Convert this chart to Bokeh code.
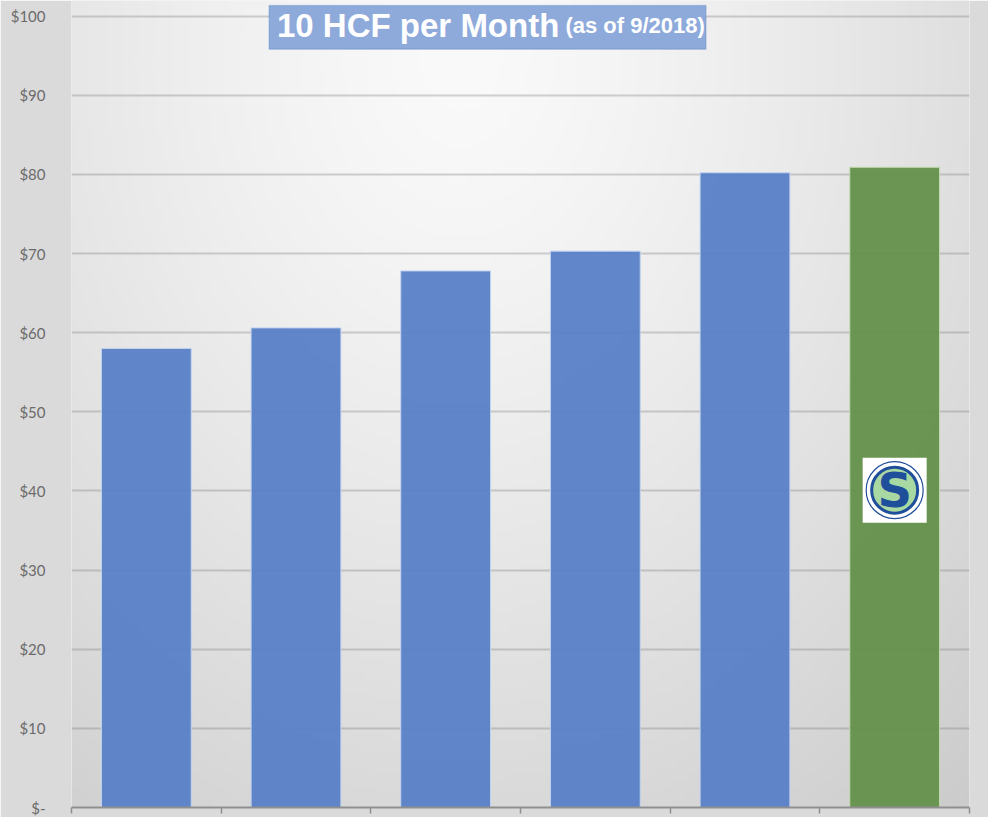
import numpy as np
from bokeh.plotting import figure
from bokeh.models import (Range1d, FixedTicker, Label, BoxAnnotation, ColumnDataSource,
                          CustomLabelingPolicy)
from bokeh.core.properties import value
from bokeh.embed import file_html
from bokeh.resources import INLINE

# ---------------- data ----------------
categories = ["Agency 1", "Agency 2", "Agency 3", "Agency 4", "Agency 5", "SD1"]
monthly_cost = [58.0, 60.6, 67.8, 70.3, 80.2, 80.9]
y_ticks = [0, 10, 20, 30, 40, 50, 60, 70, 80, 90, 100]
y_tick_labels = ["$-", "$10", "$20", "$30", "$40", "$50", "$60", "$70", "$80", "$90", "$100"]
title_main = "10 HCF per Month"
title_sub = "(as of 9/2018)"
highlight_index = 5
logo_value = 40.1

# ---------------- styling / layout ----------------
BLUE = "#5880c7"
BLUE_EDGE = "#c2d3f0"
GREEN = "#64904a"
GREEN_EDGE = "#c6dcb4"
Y_END = 101.97

n = len(categories)
xs = [i + 0.5 for i in range(n)]
fills = [GREEN if i == highlight_index else BLUE for i in range(n)]
edges = [GREEN_EDGE if i == highlight_index else BLUE_EDGE for i in range(n)]

W, H = 988, 817
p = figure(width=W, height=H, x_range=Range1d(0, n), y_range=Range1d(0, Y_END),
           output_backend="svg", toolbar_location=None,
           min_border_left=71, min_border_right=19, min_border_top=0, min_border_bottom=0)
p.outline_line_color = None
p.border_fill_color = "#dadada"
p.background_fill_color = "#eeeeee"

# background radial gradient (vignette) over the plotting frame
GH, GW = 120, 160
jj, ii = np.meshgrid(np.arange(GW), np.arange(GH))
px = 71 + (jj + 0.5) / GW * 898.0
py = 811 - (ii + 0.5) / GH * 811.0
d = np.sqrt(((px - 460) / 690.0) ** 2 + ((py - 60) / 880.0) ** 2)
g = np.clip(250 - 40 * d ** 1.3, 0, 255).astype(np.uint8)
img = np.empty((GH, GW), dtype=np.uint32)
view = img.view(dtype=np.uint8).reshape((GH, GW, 4))
view[..., 0] = g
view[..., 1] = g
view[..., 2] = g
view[..., 3] = 255
bg = p.image_rgba(image=[img], x=0, y=0, dw=n, dh=Y_END)
bg.level = "image"

# grid
p.xgrid.visible = False
p.ygrid.ticker = FixedTicker(ticks=y_ticks)
p.ygrid.grid_line_color = "#7a7a7a"
p.ygrid.grid_line_alpha = 0.33
p.ygrid.grid_line_width = 2

# bars
src = ColumnDataSource(dict(x=xs, top=monthly_cost, fill=fills, edge=edges))
p.vbar(x="x", top="top", bottom=0, width=0.6, source=src,
       fill_color="fill", line_color="edge", line_width=1, fill_alpha=0.95)

# y axis
p.yaxis.ticker = FixedTicker(ticks=y_ticks)
p.yaxis.major_label_overrides = {t: lab for t, lab in zip(y_ticks, y_tick_labels)}
p.yaxis.axis_line_color = None
p.yaxis.major_tick_line_color = None
p.yaxis.minor_tick_line_color = None
p.yaxis.major_label_standoff = 20
p.yaxis.major_label_text_font = "Lato"
p.yaxis.major_label_text_font_size = "15px"
p.yaxis.major_label_text_color = "#6b6b6b"

# x axis (tick marks at category boundaries; labels are cut off in the source)
p.xaxis.ticker = FixedTicker(ticks=list(range(n + 1)))
p.xaxis.major_label_policy = CustomLabelingPolicy(
    code="for (const i of indices) { indices.unset(i) }\nreturn indices")
p.xaxis.major_label_text_font_size = "1px"
p.xaxis.major_label_standoff = 0
p.xaxis.axis_line_color = "#8f8f8f"
p.xaxis.axis_line_width = 2
p.xaxis.major_tick_line_color = "#8f8f8f"
p.xaxis.major_tick_line_width = 1.5
p.xaxis.major_tick_out = 6
p.xaxis.major_tick_in = 0
p.xaxis.minor_tick_line_color = None

# title box
box = BoxAnnotation(left=1.3206, right=4.239, top=101.35, bottom=95.81,
                    fill_color="#8eaadb", fill_alpha=1.0,
                    line_color="#4f7bc4", line_width=1.5)
p.add_layout(box)
p.add_layout(Label(x=1.373, y=98.8, text=title_main, text_font="Liberation Sans",
                   text_font_size="33px", text_font_style="bold", text_color="white",
                   text_baseline="alphabetic"))
p.add_layout(Label(x=3.30, y=98.8, text=title_sub, text_font="Liberation Sans",
                   text_font_size="22px", text_font_style="bold", text_color="white",
                   text_baseline="alphabetic"))

# logo on the highlighted bar
lx = [xs[highlight_index]]
ly = [logo_value]
p.rect(x=lx, y=ly, width=64, height=65, width_units="screen", height_units="screen",
       fill_color="white", line_color=None)
p.scatter(x=lx, y=ly, size=57, marker="circle", fill_color=None,
          line_color="#1f4e9a", line_width=1.2)
p.scatter(x=lx, y=ly, size=46, marker="circle", fill_color="#a9d9a3",
          line_color="#1f4e9a", line_width=3)
p.text(x=lx, y=ly, text=["S"], text_font=value("DejaVu Sans"), text_font_size="48px",
       text_font_style="bold", text_color="#1f4e9a", text_align="center",
       text_baseline="middle")

open("out.html", "w").write(file_html(p, INLINE))
